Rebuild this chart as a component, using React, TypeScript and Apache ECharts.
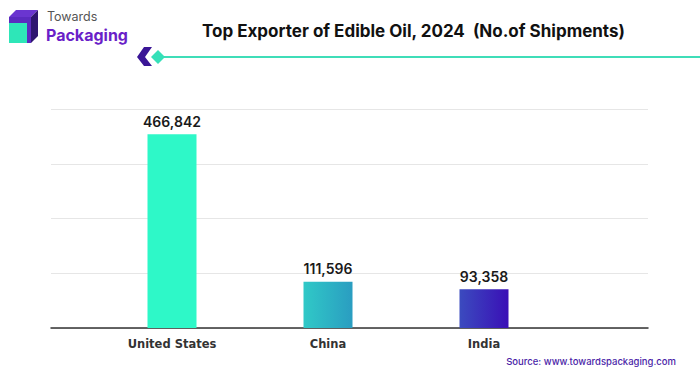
import React, { useEffect, useRef } from "react";
import * as echarts from "echarts";

const categories = ["United States", "China", "India"];
const shipments = [466842, 111596, 93358];
const yMax = 528000;
const yInterval = 132000;

const barColors = [
  ["#2EF8C8", "#2EF8C8"],
  ["#30C9C7", "#2A9DC1"],
  ["#3B4BBF", "#3A0FB6"],
];

export default function App() {
  const ref = useRef<HTMLDivElement>(null);
  useEffect(() => {
    if (!ref.current) return;
    const chart = echarts.init(ref.current, undefined, { renderer: "svg" });
    const data = shipments.map((v, i) => ({
      value: v,
      itemStyle: {
        color: new echarts.graphic.LinearGradient(0, 0, 1, 0, [
          { offset: 0, color: barColors[i][0] },
          { offset: 1, color: barColors[i][1] },
        ]),
      },
    }));
    chart.setOption({
      animation: false,
      backgroundColor: "#ffffff",
      grid: [
        { left: 51, right: 52, top: 109, bottom: 48 },
        { left: 94, right: 138, top: 109, bottom: 48 },
      ],
      xAxis: [
        {
          gridIndex: 0,
          type: "category",
          data: [""],
          axisLine: { show: true, lineStyle: { color: "#333333", width: 1.5 } },
          axisTick: { show: false },
          axisLabel: { show: false },
        },
        {
          gridIndex: 1,
          type: "category",
          data: categories,
          axisLine: { show: false },
          axisTick: { show: false },
          axisLabel: {
            margin: 10,
            color: "#333333",
            fontFamily: "DejaVu Sans",
            fontWeight: "bold",
            fontSize: 11.5,
          },
        },
      ],
      yAxis: [
        {
          gridIndex: 0,
          type: "value",
          min: 0,
          max: yMax,
          interval: yInterval,
          axisLine: { show: false },
          axisTick: { show: false },
          axisLabel: { show: false },
          splitLine: { lineStyle: { color: "#e6e6e6", width: 1 } },
        },
        {
          gridIndex: 1,
          type: "value",
          min: 0,
          max: yMax,
          interval: yInterval,
          axisLine: { show: false },
          axisTick: { show: false },
          axisLabel: { show: false },
          splitLine: { show: false },
        },
      ],
      series: [
        {
          type: "bar",
          xAxisIndex: 1,
          yAxisIndex: 1,
          data,
          barWidth: 49,
          label: {
            show: true,
            position: "top",
            distance: 6,
            color: "#1a1a1a",
            fontFamily: "Inter",
            fontWeight: 600,
            fontSize: 14,
            formatter: (p: any) => Number(p.value).toLocaleString("en-US"),
          },
        },
      ],
      graphic: [
        // logo
        { type: "rect", shape: { x: 9, y: 17, width: 22, height: 26 }, style: { fill: "#5B2BC0" } },
        { type: "polygon", shape: { points: [[9, 17], [16, 10], [38, 10], [31, 17]] }, style: { fill: "#6A35D0" } },
        { type: "polygon", shape: { points: [[31, 17], [38, 10], [38, 36], [31, 43]] }, style: { fill: "#2E1570" } },
        { type: "rect", shape: { x: 9, y: 23, width: 18, height: 20 }, style: { fill: "#2EE6B8" } },
        {
          type: "text", left: 47, top: 10,
          style: { text: "Towards", fill: "#555555", fontFamily: "Inter", fontSize: 12.5 },
        },
        {
          type: "text", left: 46, top: 27,
          style: { text: "Packaging", fill: "#6A1FC8", fontFamily: "Inter", fontWeight: "bold", fontSize: 16 },
        },
        // title
        {
          type: "text", left: 202, top: 22,
          style: {
            text: "Top Exporter of Edible Oil, 2024  (No.of Shipments)",
            fill: "#111111", fontFamily: "Inter", fontWeight: "bold", fontSize: 17,
          },
        },
        // decorative line
        { type: "line", shape: { x1: 162, y1: 57, x2: 700, y2: 57 }, style: { stroke: "#3FDDB8", lineWidth: 2 } },
        { type: "polygon", shape: { points: [[144, 47], [152, 47], [145, 57], [152, 66], [144, 66], [137, 57]] }, style: { fill: "#3A1596" } },
        { type: "polygon", shape: { points: [[158, 50], [165, 57], [158, 64], [151, 57]] }, style: { fill: "#35E0B8" } },
        // source
        {
          type: "text", right: 24, top: 356,
          style: { text: "Source: www.towardspackaging.com", fill: "#4B1FA8", fontFamily: "Inter", fontWeight: 500, fontSize: 9.5 },
        },
      ],
    });
    return () => chart.dispose();
  }, []);
  return <div ref={ref} style={{ width: 700, height: 376, position: "fixed", left: 0, top: 0 }} />;
}
